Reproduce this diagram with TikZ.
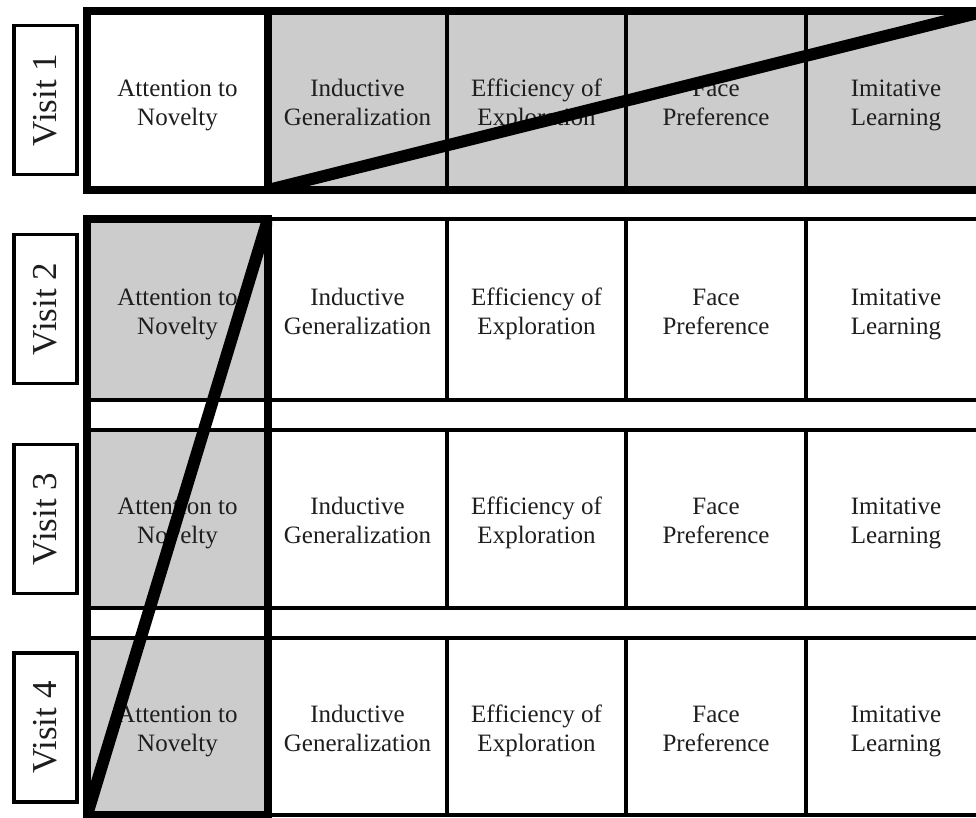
\documentclass[tikz,border=0pt]{standalone}
\usepackage{fontspec}
\setmainfont{Liberation Serif}
\definecolor{shadegray}{RGB}{204,204,204}
\definecolor{inkgray}{RGB}{30,30,30}
\tikzset{
  cell/.style={draw=black, line width=3.3pt, inner sep=0pt, outer sep=0pt,
    align=center, text=inkgray, font=\fontsize{25}{29}\selectfont},
  celltext/.style={inner sep=0pt, align=center, text=inkgray,
    font=\fontsize{25}{29}\selectfont, yshift=-4.5pt},
  thickborder/.style={draw=black, line width=8pt},
  diagline/.style={draw=black, line width=12pt, line cap=butt},
  visitbox/.style={draw=black, line width=3.3pt, fill=white, rotate=90,
    minimum width=149pt, minimum height=63pt, inner sep=0pt,
    text=inkgray, font=\fontsize{35}{40}\selectfont}
}
\begin{document}
\begin{tikzpicture}[x=1pt, y=-1pt]
\clip (0,0) rectangle (976,818);
\fill[white] (0,0) rectangle (976,818);
\foreach \r/\ya/\yb in {1/11/190, 2/219/400, 3/430/608, 4/638/815} {
  \foreach \c/\xa/\xb/\txt in {1/87/268/{Attention to\strut\\Novelty\strut},
      2/268/447/{Inductive\strut\\Generalization\strut},
      3/447/626/{Efficiency of\strut\\Exploration\strut},
      4/626/806/{Face\strut\\Preference\strut},
      5/806/986/{Imitative\strut\\Learning\strut}} {
    \pgfmathtruncatemacro\shaded{((\r==1)&&(\c>1))||((\r>1)&&(\c==1))}
    \ifnum\shaded=1 \def\fc{shadegray}\else\def\fc{white}\fi
    \node[cell, fill=\fc, minimum width={(\xb-\xa)*1pt}, minimum height={(\yb-\ya)*1pt}]
      (r\r-c\c) at ({(\xa+\xb)/2},{(\ya+\yb)/2}) {};
    \node[celltext] (t\r-c\c) at (r\r-c\c.center) {\txt};
  }
}
% thick outlines
\draw[thickborder] (r1-c1.north west) rectangle (r1-c5.south east);
\draw[thickborder] (r1-c1.north east) -- (r1-c1.south east);
\draw[thickborder] (r2-c1.north west) rectangle (r4-c1.south east);
% diagonals
\begin{scope}
  \clip (83,7) rectangle (990,194);
  \draw[diagline] (r1-c2.south west) -- (r1-c5.north east);
\end{scope}
\begin{scope}
  \clip (83,215) rectangle (272,819);
  \draw[diagline] (r4-c1.south west) -- (r2-c1.north east);
\end{scope}
% visit labels
\node[visitbox] (v1) at (45.5,100) {Visit 1};
\node[visitbox] (v2) at (45.5,309) {Visit 2};
\node[visitbox] (v3) at (45.5,519) {Visit 3};
\node[visitbox] (v4) at (45.5,727.5) {Visit 4};
\end{tikzpicture}
\end{document}
